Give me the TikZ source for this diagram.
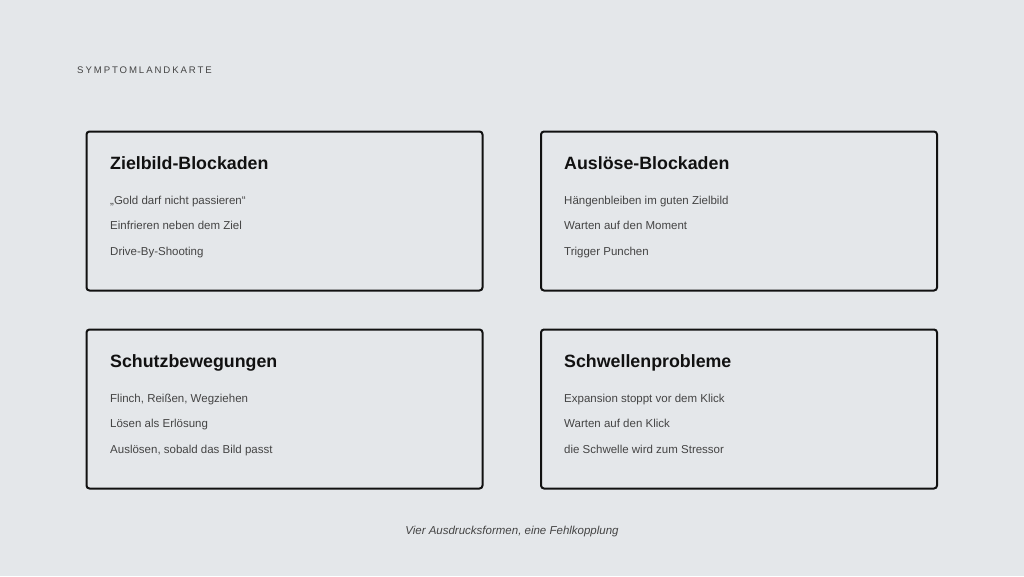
\documentclass[tikz,border=0pt]{standalone}
\usepackage{fontspec}
\setmainfont{Liberation Sans}
\definecolor{bg}{HTML}{E4E7EA}
\definecolor{ink}{HTML}{111111}
\definecolor{soft}{HTML}{444444}
\begin{document}
\begin{tikzpicture}[x=1pt,y=-1pt,
  box/.style={draw=ink,line width=2pt,rounded corners=3pt,minimum width=396pt,minimum height=159pt,inner sep=0pt},
  ttl/.style={anchor=base west,inner sep=0pt,text=ink,font=\fontsize{17.8}{20}\selectfont\bfseries},
  itm/.style={anchor=base west,inner sep=0pt,text=soft,font=\fontsize{11.5}{14}\selectfont},
]
\fill[bg] (0,0) rectangle (1024,576);
\useasboundingbox (0,0) rectangle (1024,576);
\node[anchor=base west,inner sep=0pt,text=soft,font=\fontsize{9.6}{12}\selectfont\addfontfeature{LetterSpace=20}] (hdr) at (77,73) {SYMPTOMLANDKARTE};

\node[box] (b1) at (284.5,211) {};
\node[box] (b2) at (739,211) {};
\node[box] (b3) at (284.5,409) {};
\node[box] (b4) at (739,409) {};

\node[ttl] (t1) at (110,169) {Zielbild-Blockaden};
\node[itm] (i11) at (110,204) {„Gold darf nicht passieren“};
\node[itm] (i12) at (110,229) {Einfrieren neben dem Ziel};
\node[itm] (i13) at (110,255) {Drive-By-Shooting};

\node[ttl] (t2) at (564,169) {Auslöse-Blockaden};
\node[itm] (i21) at (564,204) {Hängenbleiben im guten Zielbild};
\node[itm] (i22) at (564,229) {Warten auf den Moment};
\node[itm] (i23) at (564,255) {Trigger Punchen};

\node[ttl] (t3) at (110,367) {Schutzbewegungen};
\node[itm] (i31) at (110,402) {Flinch, Reißen, Wegziehen};
\node[itm] (i32) at (110,427) {Lösen als Erlösung};
\node[itm] (i33) at (110,453) {Auslösen, sobald das Bild passt};

\node[ttl] (t4) at (564,367) {Schwellenprobleme};
\node[itm] (i41) at (564,402) {Expansion stoppt vor dem Klick};
\node[itm] (i42) at (564,427) {Warten auf den Klick};
\node[itm] (i43) at (564,453) {die Schwelle wird zum Stressor};

\node[anchor=base,inner sep=0pt,text=soft,font=\fontsize{11.5}{14}\selectfont\itshape] (ft) at (512,534) {Vier Ausdrucksformen, eine Fehlkopplung};
\end{tikzpicture}
\end{document}
